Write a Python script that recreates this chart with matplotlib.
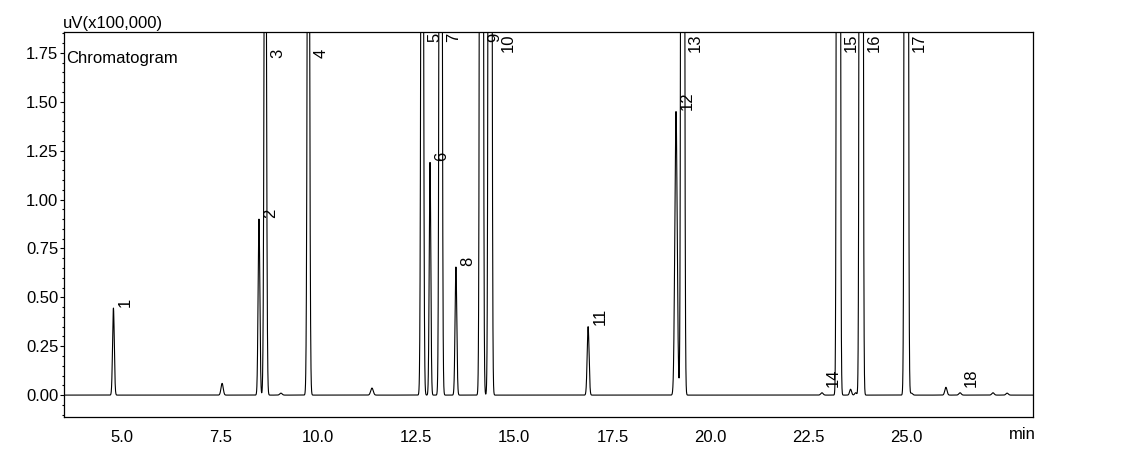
import numpy as np
import matplotlib
matplotlib.use("Agg")
import matplotlib.pyplot as plt
from matplotlib.ticker import MultipleLocator, FormatStrFormatter

plt.rcParams['font.family'] = ['Liberation Sans', 'DejaVu Sans']

# ---- data ----
peak_labels = ["1", "2", "3", "4", "5", "6", "7", "8", "9", "10",
               "11", "12", "13", "14", "15", "16", "17", "18"]
peak_rt = [4.78, 8.49, 8.65, 9.75, 12.65, 12.85, 13.12, 13.51, 14.16, 14.38,
           16.88, 19.12, 19.29, 22.84, 23.26, 23.84, 24.99, 26.36]
peak_height = [0.445, 0.90, 4.0, 4.5, 6.0, 1.19, 10.0, 0.655, 20.0, 20.0,
               0.35, 1.45, 20.0, 0.012, 30.0, 30.0, 30.0, 0.012]
peak_sigma = [0.022, 0.022, 0.025, 0.025, 0.025, 0.02, 0.025, 0.022, 0.026, 0.026,
              0.024, 0.03, 0.026, 0.03, 0.025, 0.025, 0.026, 0.03]

minor_rt = [7.55, 9.05, 11.37, 23.57, 23.70, 25.12, 26.00, 27.20, 27.56]
minor_height = [0.06, 0.01, 0.036, 0.03, 0.012, 0.01, 0.04, 0.012, 0.01]
minor_sigma = [0.028, 0.03, 0.032, 0.025, 0.025, 0.03, 0.028, 0.03, 0.03]

y_ticks = [0.00, 0.25, 0.50, 0.75, 1.00, 1.25, 1.50, 1.75]
x_ticks = [5.0, 7.5, 10.0, 12.5, 15.0, 17.5, 20.0, 22.5, 25.0]

XMIN, XMAX = 3.52, 28.22
YMIN, YMAX = -0.112, 1.857

# ---- build trace from the peak table ----
t = np.arange(XMIN, XMAX, 0.002)
signal = np.zeros_like(t)
for rt, h, s in zip(peak_rt + minor_rt, peak_height + minor_height,
                    peak_sigma + minor_sigma):
    signal += h * np.exp(-0.5 * ((t - rt) / s) ** 2)

fig = plt.figure(figsize=(11.34, 4.62), dpi=100)
ax = fig.add_axes([64 / 1134, 45 / 462, (1033 - 64) / 1134, (417 - 32) / 462])
ax.plot(t, signal, color='black', lw=0.8)
ax.set_xlim(XMIN, XMAX)
ax.set_ylim(YMIN, YMAX)

ax.set_yticks(y_ticks)
ax.yaxis.set_major_formatter(FormatStrFormatter('%.2f'))
ax.yaxis.set_minor_locator(MultipleLocator(0.05))
ax.set_xticks(x_ticks)
ax.xaxis.set_major_formatter(FormatStrFormatter('%.1f'))
ax.tick_params(axis='y', which='major', length=3, width=0.8, labelsize=12, pad=1)
ax.tick_params(axis='y', which='minor', length=1.5, width=0.8)
ax.tick_params(axis='x', which='major', length=0, labelsize=12, pad=9)
for sp in ax.spines.values():
    sp.set_linewidth(0.9)

# peak labels
top_drop = {"3": 17, "4": 17}
x_shift = {"10": 7.5}
for lab, rt, h in zip(peak_labels, peak_rt, peak_height):
    dx = x_shift.get(lab, 4)
    if h >= YMAX:
        drop = top_drop.get(lab, 1)
        ax.annotate(lab, xy=(rt, YMAX), xytext=(dx, -drop * 0.72),
                    textcoords='offset points', rotation=90,
                    ha='left', va='top', fontsize=12, annotation_clip=False)
    else:
        yv = max(h, 0.035)
        ax.annotate(lab, xy=(rt, yv), xytext=(3, 1),
                    textcoords='offset points', rotation=90,
                    ha='left', va='bottom', fontsize=12)

ax.text(0.002, 0.951, "Chromatogram", transform=ax.transAxes,
        ha='left', va='top', fontsize=12)
fig.text(63 / 1134, (462 - 28) / 462, "uV(x100,000)", ha='left',
         va='baseline', fontsize=12)
ax.text(1.003, -0.025, "min", transform=ax.transAxes, ha='right',
        va='top', fontsize=12)

fig.savefig("out.png", dpi=100)
